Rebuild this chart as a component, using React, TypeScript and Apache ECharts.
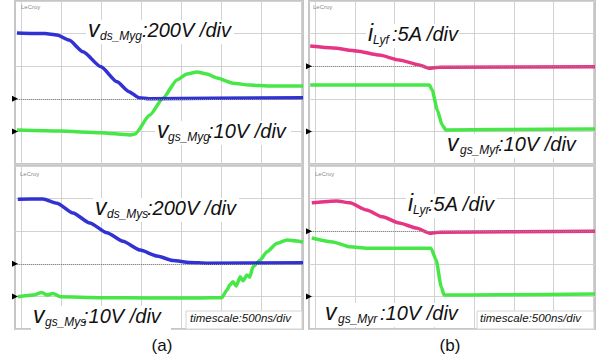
import React, { useEffect, useRef } from "react";
import * as echarts from "echarts";

// time axis in ns (500 ns/div), vertical in screen divisions
const X_MIN = -75;
const X_MAX = 3525;
const Y_MIN = 0;
const Y_MAX = 5;
const gridTimes = [0, 500, 1000, 1500, 2000, 2500, 3000, 3500];

// (a) top: v_ds_Myg (blue), v_gs_Myg (green)
const tVdsMyg = [-50, 300, 450, 600, 775, 1000, 1200, 1350, 1475, 1600, 2400, 3525];
const vdsMyg = [4.02, 4.0, 3.96, 3.8, 3.44, 2.98, 2.52, 2.22, 2.03, 2.0, 2.02, 2.03];
const tVgsMyg = [-50, 490, 990, 1360, 1425, 1610, 1775, 1950, 2075, 2200, 2325, 2450, 2650, 2860, 3110, 3525];
const vgsMyg = [1.04, 1.01, 0.96, 0.89, 0.92, 1.5, 2.02, 2.58, 2.76, 2.82, 2.76, 2.64, 2.48, 2.42, 2.39, 2.39];

// (b) top: i_Lyf (pink), v_gs_Myf (green)
const tILyf = [-60, 225, 525, 810, 1060, 1310, 1440, 1560, 3525];
const iLyf = [3.62, 3.56, 3.47, 3.34, 3.19, 3.04, 2.94, 2.97, 2.98];
const tVgsMyf = [-60, 690, 1440, 1475, 1540, 1600, 1650, 2310, 3525];
const vgsMyf = [2.42, 2.42, 2.42, 2.27, 1.66, 1.2, 1.04, 1.06, 1.07];

// (a) bottom: v_ds_Mys (blue), v_gs_Mys (green)
const tVdsMys = [-40, 275, 450, 650, 860, 1075, 1275, 1490, 1700, 1900, 2110, 2325, 3525];
const vdsMys = [3.98, 3.99, 3.86, 3.56, 3.25, 2.95, 2.69, 2.42, 2.24, 2.1, 2.04, 2.02, 2.03];
const tVgsMys = [-40, 150, 260, 325, 400, 490, 990, 1610, 2240, 2510, 2575, 2610, 2650, 2690, 2740, 2775, 2825, 2860, 2900, 2990, 3075, 3200, 3325, 3450, 3525];
const vgsMys = [0.99, 1.04, 1.12, 1.04, 1.09, 0.99, 0.96, 0.95, 0.95, 0.96, 1.2, 1.35, 1.45, 1.32, 1.6, 1.48, 1.66, 1.59, 1.91, 2.12, 2.37, 2.63, 2.73, 2.7, 2.66];

// (b) bottom: i_Lyr (pink), v_gs_Myr (green)
const tILyr = [-40, 275, 440, 650, 850, 1060, 1275, 1440, 1560, 3525];
const iLyr = [3.87, 3.93, 3.87, 3.65, 3.44, 3.25, 3.1, 2.94, 2.97, 3.0];
const tVgsMyr = [-40, 225, 440, 650, 1460, 1525, 1590, 1625, 2310, 3525];
const vgsMyr = [2.79, 2.67, 2.52, 2.48, 2.48, 2.12, 1.29, 1.04, 1.05, 1.07];

// ground-level markers per panel [channel1, channel2]
const levels = [[2, 1], [3, 1], [2, 1], [3, 1]];

const BLUE = "#2626d2";
const GREEN = "#3de63d";
const PINK = "#e52a7d";
const FONT = '"Liberation Sans", Arial, sans-serif';

const zip = (t: number[], v: number[]) => t.map((x, i) => [x, v[i]]);

function vGrid(gi: number) {
  return {
    type: "custom",
    xAxisIndex: gi,
    yAxisIndex: gi,
    z: 2,
    silent: true,
    data: gridTimes.map((t) => [t, Y_MIN]),
    renderItem: (_params: any, api: any) => {
      const t = api.value(0);
      const p0 = api.coord([t, Y_MIN]);
      const p1 = api.coord([t, Y_MAX]);
      const x = Math.round(p0[0]) + 0.5;
      return {
        type: "line",
        shape: { x1: x, y1: p0[1], x2: x + 0.01, y2: p1[1] },
        style: { stroke: "#d2d2d2", lineWidth: 1 },
      };
    },
  };
}

function trace(gi: number, name: string, t: number[], v: number[], color: string, level: number, dottedLevel?: number) {
  const s: any = {
    type: "line",
    name,
    xAxisIndex: gi,
    yAxisIndex: gi,
    data: zip(t, v),
    symbol: "none",
    smooth: 0.2,
    smoothMonotone: "x",
    z: 3,
    silent: true,
    lineStyle: { color, width: 3.5, opacity: 0.95 },
    markPoint: {
      silent: true,
      symbol: "triangle",
      symbolSize: [6, 6],
      symbolRotate: -90,
      label: { show: false },
      itemStyle: { color: "#000" },
      data: [{ coord: [X_MIN, level] }],
    },
  };
  if (dottedLevel !== undefined) {
    s.markLine = {
      silent: true,
      symbol: ["none", "none"],
      label: { show: false },
      data: [{ yAxis: dottedLevel, lineStyle: { color: "#8a8a8a", width: 1, type: "dotted" } }],
    };
  }
  return s;
}

function label(x: number, base: number, main: string, sub: string, rest: string, subX: number, restX: number, right: number) {
  return [
    { type: "rect", z: 10, shape: { x: x - 2, y: base - 17, width: right - x + 4, height: 24 }, style: { fill: "#fff" } },
    { type: "text", z: 11, x, y: base - 0.35 * 23, style: { text: main, fontSize: 23, fontStyle: "italic", fontFamily: FONT, fill: "#111", verticalAlign: "middle", align: "left" } },
    { type: "text", z: 11, x: subX, y: base + 3 - 0.35 * 12, style: { text: sub, fontSize: 12, fontStyle: "italic", fontFamily: FONT, fill: "#111", verticalAlign: "middle", align: "left" } },
    { type: "text", z: 11, x: restX, y: base - 0.35 * 20, style: { text: rest, fontSize: 20, fontStyle: "italic", fontFamily: FONT, fill: "#111", verticalAlign: "middle", align: "left" } },
  ];
}

function timescale(x: number, boxX: number, boxR: number) {
  return [
    { type: "rect", z: 10, shape: { x: boxX, y: 311, width: boxR - boxX, height: 18 }, style: { fill: "#fff", stroke: "#d4d4d4", lineWidth: 1 } },
    { type: "text", z: 11, x, y: 322 - 0.35 * 11.5, style: { text: "timescale:500ns/div", fontSize: 11.5, fontStyle: "italic", fontFamily: FONT, fill: "#111", verticalAlign: "middle", align: "left" } },
  ];
}

function lecroy(x: number, y: number) {
  return { type: "text", z: 11, x, y, style: { text: "LeCroy", fontSize: 6, fontFamily: FONT, fill: "#8a8a8a", verticalAlign: "top", align: "left" } };
}

const panels = [
  { left: 15, top: 1, width: 288, height: 163 },
  { left: 309, top: 1, width: 286, height: 163 },
  { left: 15, top: 166, width: 288, height: 163 },
  { left: 309, top: 166, width: 286, height: 163 },
];

export default function App() {
  const ref = useRef<HTMLDivElement>(null);
  useEffect(() => {
    if (!ref.current) return;
    const chart = echarts.init(ref.current, null, { renderer: "svg" });
    const option: any = {
      animation: false,
      backgroundColor: "#fff",
      grid: panels.map((p) => ({ ...p, show: true, borderColor: "#c6c6c6", borderWidth: 2 })),
      xAxis: panels.map((_, i) => ({ type: "value", gridIndex: i, min: X_MIN, max: X_MAX, show: false })),
      yAxis: panels.map((_, i) => ({
        type: "value",
        gridIndex: i,
        min: Y_MIN,
        max: Y_MAX,
        interval: 1,
        axisLine: { show: false },
        axisTick: { show: false },
        axisLabel: { show: false },
        splitLine: { show: true, lineStyle: { color: "#d2d2d2", width: 1 } },
      })),
      series: [
        vGrid(0),
        vGrid(1),
        vGrid(2),
        vGrid(3),
        trace(0, "v_gs_Myg", tVgsMyg, vgsMyg, GREEN, levels[0][1], levels[0][0]),
        trace(0, "v_ds_Myg", tVdsMyg, vdsMyg, BLUE, levels[0][0]),
        trace(1, "v_gs_Myf", tVgsMyf, vgsMyf, GREEN, levels[1][1], levels[1][0]),
        trace(1, "i_Lyf", tILyf, iLyf, PINK, levels[1][0]),
        trace(2, "v_gs_Mys", tVgsMys, vgsMys, GREEN, levels[2][1], levels[2][0]),
        trace(2, "v_ds_Mys", tVdsMys, vdsMys, BLUE, levels[2][0]),
        trace(3, "v_gs_Myr", tVgsMyr, vgsMyr, GREEN, levels[3][1], levels[3][0]),
        trace(3, "i_Lyr", tILyr, iLyr, PINK, levels[3][0]),
      ],
      graphic: [
        lecroy(21, 4),
        lecroy(313, 4),
        lecroy(20, 171),
        lecroy(315, 171),
        ...label(88, 37, "v", "ds_Myg", ":200V /div", 100, 142, 232),
        ...label(157, 138, "v", "gs_Myg", ":10V /div", 168, 208, 289),
        ...label(368, 41, "i", "Lyf", ":5A /div", 373, 392, 457),
        ...label(447, 151, "v", "gs_Myf", ":10V /div", 460, 498, 576),
        ...label(95, 215, "v", "ds_Mys", ":200V /div", 107, 147, 237),
        ...label(33, 323, "v", "gs_Mys", ":10V /div", 45, 83, 169),
        ...label(408, 211, "i", "Lyr", ":5A /div", 413, 428, 495),
        ...label(325, 320, "v", "gs_Myr", ":10V /div", 338, 380, 455),
        ...timescale(190, 186, 302),
        ...timescale(480, 477, 594),
        { type: "text", x: 162, y: 345, style: { text: "(a)", fontSize: 17, fontFamily: FONT, fill: "#111", align: "center", verticalAlign: "middle" } },
        { type: "text", x: 450, y: 345, style: { text: "(b)", fontSize: 17, fontFamily: FONT, fill: "#111", align: "center", verticalAlign: "middle" } },
      ],
    };
    chart.setOption(option);
    return () => chart.dispose();
  }, []);
  return <div ref={ref} style={{ position: "fixed", left: 0, top: 0, width: 605, height: 360, background: "#fff" }} />;
}
